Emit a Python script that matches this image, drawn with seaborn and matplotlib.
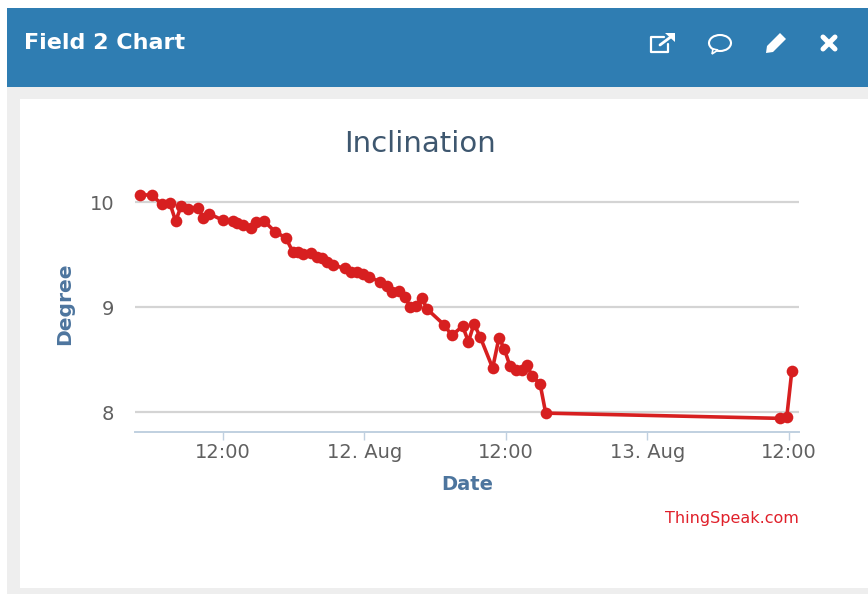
import matplotlib
matplotlib.use("Agg")
import matplotlib.pyplot as plt
from matplotlib.patches import Rectangle, Ellipse, Polygon
import pandas as pd
import seaborn as sns

# hours since 11 Aug 00:00
hours = [4.96, 5.95, 6.83, 7.5, 7.99, 8.44, 9.0, 9.9, 10.33, 10.84, 11.97, 12.87, 13.19, 13.67,
         14.35, 14.8, 15.5, 16.41, 17.34, 17.91, 18.34, 18.81, 19.44, 19.95, 20.37, 20.85, 21.35,
         22.35, 22.83, 23.39, 23.9, 24.41, 25.32, 25.88, 26.31, 26.93, 27.44, 27.86, 28.37, 28.85,
         29.33, 30.77, 31.4, 32.33, 32.81, 33.29, 33.8, 34.87, 35.41, 35.86, 36.34, 36.83, 37.34,
         37.76, 38.24, 38.89, 39.37, 59.25, 59.81, 60.24]
degree = [10.07, 10.07, 9.98, 9.99, 9.82, 9.96, 9.94, 9.95, 9.85, 9.89, 9.83, 9.82, 9.80, 9.78,
          9.75, 9.81, 9.82, 9.72, 9.66, 9.53, 9.53, 9.51, 9.52, 9.48, 9.47, 9.43, 9.40,
          9.37, 9.34, 9.34, 9.32, 9.29, 9.24, 9.20, 9.14, 9.15, 9.10, 9.00, 9.01, 9.09,
          8.98, 8.83, 8.73, 8.82, 8.67, 8.84, 8.72, 8.42, 8.71, 8.60, 8.44, 8.40, 8.40,
          8.45, 8.34, 8.27, 7.99, 7.94, 7.95, 8.39]
x_ticks = [12, 24, 36, 48, 60]
x_labels = ["12:00", "12. Aug", "12:00", "13. Aug", "12:00"]
y_ticks = [8, 9, 10]
y_labels = ["8", "9", "10"]
RED = "#d71f20"
W, H = 868, 594

sns.set_theme(style="white")
plt.rcParams["font.family"] = ["DejaVu Sans"]
fig = plt.figure(figsize=(W / 100, H / 100), dpi=100, facecolor="white")

# page chrome in pixel coordinates
bg = fig.add_axes([0, 0, 1, 1], zorder=0)
bg.set_xlim(0, W)
bg.set_ylim(H, 0)
bg.axis("off")
bg.add_patch(Rectangle((7, 87), W, H, fc="#eeeeee", ec="none"))
bg.add_patch(Rectangle((7, 8), W, 79, fc="#2f7db2", ec="none"))
bg.add_patch(Rectangle((20, 99), W, 489, fc="white", ec="none"))
bg.text(24, 43, "Field 2 Chart", color="white", fontsize=16, fontweight="bold", va="center", ha="left")
# external-link icon
bg.plot([664, 651, 651, 668, 668], [37, 37, 52, 52, 44], color="white", lw=1.6)
bg.plot([660, 672], [45, 36], color="white", lw=2)
bg.add_patch(Polygon([[665, 33], [675, 33], [675, 42]], fc="white", ec="none"))
# comment icon
bg.add_patch(Ellipse((720, 43), 22, 16, fc="none", ec="white", lw=1.5))
bg.add_patch(Polygon([[713, 49], [712, 54], [718, 50]], fc="#2f7db2", ec="white", lw=1.2))
# pencil icon
bg.add_patch(Polygon([[767, 46], [780, 33], [786, 39], [773, 52], [766, 53]], fc="white", ec="none"))
# close icon
bg.plot([823, 835], [37, 49], color="white", lw=3.6, solid_capstyle="round")
bg.plot([835, 823], [37, 49], color="white", lw=3.6, solid_capstyle="round")

# plot area: x 135..799, y 175..432
ax = fig.add_axes([135 / W, 1 - 432 / H, 664 / W, 257 / H], zorder=1)
ax.patch.set_alpha(0)
df = pd.DataFrame({"hours": hours, "degree": degree})
sns.lineplot(data=df, x="hours", y="degree", ax=ax, color=RED, lw=2.6, marker="o", ms=8.4,
             markeredgecolor=RED, markeredgewidth=0, errorbar=None, estimator=None, sort=False, clip_on=False, zorder=3)
ax.set_xlim(4.54, 60.85)
ax.set_ylim(7.81, 10.26)
ax.set_xticks(x_ticks, x_labels)
ax.set_yticks(y_ticks, y_labels)
for s in ("top", "left", "right"):
    ax.spines[s].set_visible(False)
ax.spines["bottom"].set_color("#c0d0e0")
ax.spines["bottom"].set_linewidth(1.4)
ax.grid(False)
ax.yaxis.grid(True, color="#d4d4d4", lw=1.6)
ax.tick_params(axis="x", length=6, width=1, color="#c0d0e0", labelcolor="#606060", labelsize=14, pad=2, bottom=True)
ax.tick_params(axis="y", length=0, labelcolor="#606060", labelsize=14, pad=15)
ax.set_xlabel("Date", color="#4d759e", fontweight="bold", fontsize=14, labelpad=9)
ax.set_ylabel("Degree", color="#4d759e", fontweight="bold", fontsize=14.6, labelpad=11)

bg.text(420, 144, "Inclination", color="#3e576f", fontsize=21, ha="center", va="center")
bg.text(799, 519, "ThingSpeak.com", color="#e0202a", fontsize=11.5, ha="right", va="center")

fig.savefig("out.png", dpi=100)
